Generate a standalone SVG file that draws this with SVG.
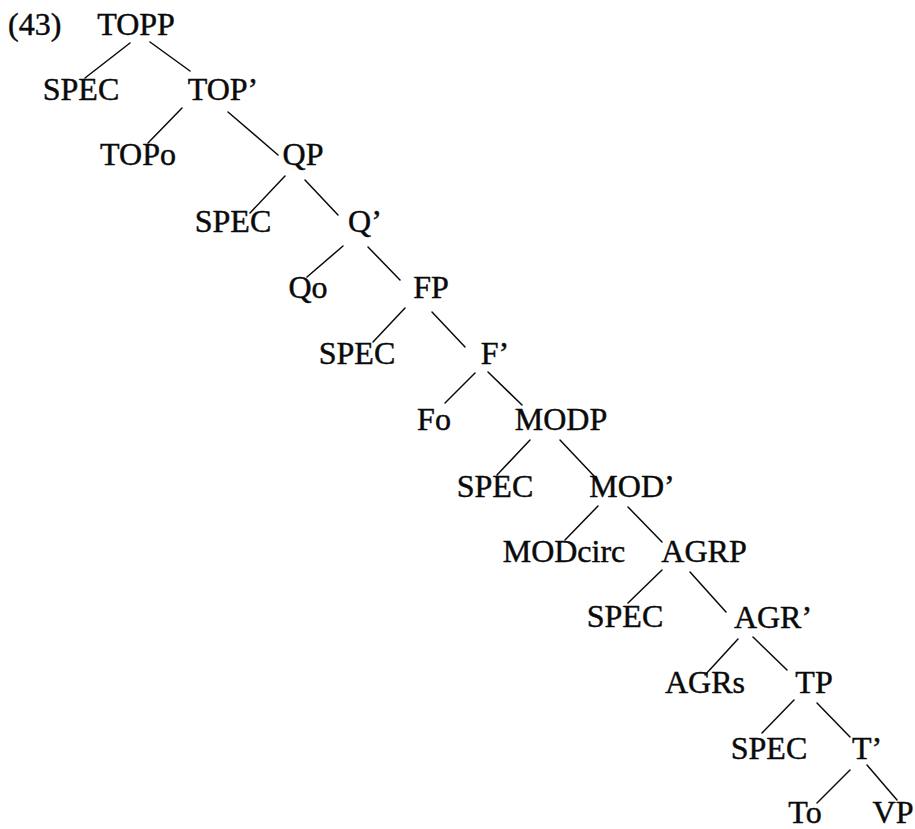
<svg xmlns="http://www.w3.org/2000/svg" width="915" height="829" viewBox="0 0 915 829">
  <style>
    .edge { stroke: #0a0a0a; stroke-width: 1.5; stroke-linecap: round; fill: none; }
    .lbl text { stroke: #0a0a0a; stroke-width: 0.45; }
  </style>
  <rect width="915" height="829" fill="#fff"/>

  <g class="lbl" font-family="'Liberation Serif', 'DejaVu Serif', serif" font-size="32" fill="#0a0a0a" text-anchor="middle">
  <text id="label" x="8" y="35" text-anchor="start">(43)</text>

  <!-- tree branches -->
  <g id="connectors" class="edge">
    <line x1="130" y1="43" x2="85" y2="78"/>
    <line x1="150" y1="42" x2="190" y2="71"/>
    <line x1="182" y1="108" x2="148" y2="143"/>
    <line x1="228" y1="112" x2="278" y2="155"/>
    <line x1="285" y1="176" x2="250" y2="213"/>
    <line x1="305" y1="180" x2="338" y2="215"/>
    <line x1="343" y1="246" x2="307" y2="277"/>
    <line x1="368" y1="247" x2="400" y2="280"/>
    <line x1="405" y1="308" x2="373" y2="342"/>
    <line x1="432" y1="312" x2="465" y2="347"/>
    <line x1="475" y1="373" x2="445" y2="403"/>
    <line x1="488" y1="372" x2="522" y2="405"/>
    <line x1="530" y1="440" x2="497" y2="475"/>
    <line x1="560" y1="440" x2="594" y2="476"/>
    <line x1="598" y1="506" x2="565" y2="540"/>
    <line x1="628" y1="507" x2="662" y2="542"/>
    <line x1="662" y1="570" x2="628" y2="603"/>
    <line x1="690" y1="572" x2="726" y2="612"/>
    <line x1="738" y1="639" x2="705" y2="675"/>
    <line x1="753" y1="637" x2="787" y2="670"/>
    <line x1="794" y1="700" x2="762" y2="733"/>
    <line x1="817" y1="703" x2="850" y2="737"/>
    <line x1="850" y1="770" x2="817" y2="803"/>
    <line x1="867" y1="765" x2="897" y2="800"/>
  </g>

  <g id="topp"><text x="136" y="35">TOPP</text></g>
  <g id="spec-top"><text x="81" y="100">SPEC</text></g>
  <g id="top-bar"><text x="223" y="100">TOP’</text></g>
  <g id="top-head"><text x="138" y="165">TOPo</text></g>
  <g id="qp"><text x="303" y="165">QP</text></g>
  <g id="spec-q"><text x="233" y="232">SPEC</text></g>
  <g id="q-bar"><text x="365" y="232">Q’</text></g>
  <g id="q-head"><text x="308" y="298">Qo</text></g>
  <g id="fp"><text x="431" y="298">FP</text></g>
  <g id="spec-f"><text x="357" y="364">SPEC</text></g>
  <g id="f-bar"><text x="495" y="364">F’</text></g>
  <g id="f-head"><text x="434" y="430">Fo</text></g>
  <g id="modp"><text x="561" y="430">MODP</text></g>
  <g id="spec-mod"><text x="495" y="497">SPEC</text></g>
  <g id="mod-bar"><text x="632" y="497">MOD’</text></g>
  <g id="mod-head"><text x="564" y="562">MODcirc</text></g>
  <g id="agrp"><text x="704" y="562">AGRP</text></g>
  <g id="spec-agr"><text x="625" y="627">SPEC</text></g>
  <g id="agr-bar"><text x="773" y="628">AGR’</text></g>
  <g id="agr-head"><text x="705" y="693">AGRs</text></g>
  <g id="tp"><text x="814" y="693">TP</text></g>
  <g id="spec-t"><text x="769" y="759">SPEC</text></g>
  <g id="t-bar"><text x="867" y="759">T’</text></g>
  <g id="t-head"><text x="805" y="823">To</text></g>
  <g id="vp"><text x="893" y="823">VP</text></g>
  </g>
</svg>
